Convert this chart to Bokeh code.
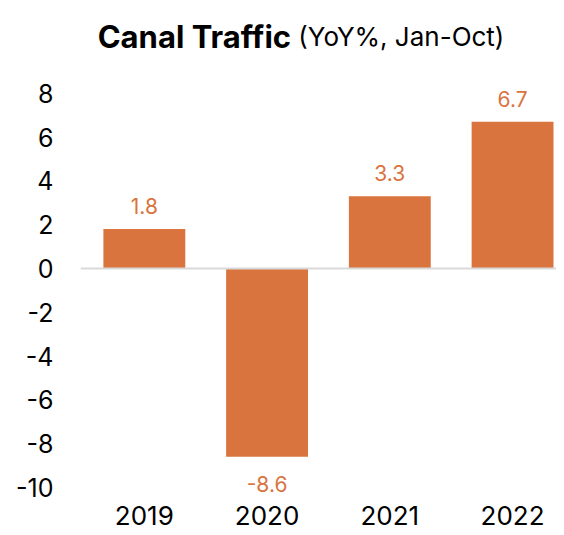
from bokeh.plotting import figure
from bokeh.models import Range1d, FixedTicker, Span, Label, ColumnDataSource
from bokeh.core.properties import value
from bokeh.embed import file_html
from bokeh.resources import INLINE

years = ["2019", "2020", "2021", "2022"]
yoy = [1.8, -8.6, 3.3, 6.7]
y_ticks = [-10, -8, -6, -4, -2, 0, 2, 4, 6, 8]
title_main = "Canal Traffic"
title_sub = "(YoY%, Jan-Oct)"

BAR = "#D9743F"
FONT = "Inter"

xs = list(range(len(years)))
src = ColumnDataSource(dict(x=xs, top=yoy))
pos_src = ColumnDataSource(dict(
    x=[x for x, v in zip(xs, yoy) if v >= 0],
    y=[v for v in yoy if v >= 0],
    lab=[f"{v:.1f}" for v in yoy if v >= 0],
))
neg_src = ColumnDataSource(dict(
    x=[x for x, v in zip(xs, yoy) if v < 0],
    y=[v for v in yoy if v < 0],
    lab=[f"{v:.1f}" for v in yoy if v < 0],
))

p = figure(width=556, height=535, output_backend="svg", toolbar_location=None,
           x_range=Range1d(-0.52, 3.358), y_range=Range1d(-10.64, 12.24),
           min_border_left=80, min_border_right=0, min_border_top=0,
           min_border_bottom=34)
p.outline_line_color = None
p.xgrid.visible = False
p.ygrid.visible = False

p.vbar(x="x", top="top", bottom=0, width=0.667, source=src,
       fill_color=BAR, line_color=None)

p.add_layout(Span(location=0, dimension="width", line_color="#D9D9D9", line_width=2))

p.text(x="x", y="y", text="lab", source=pos_src, text_color=BAR,
       text_font=value(FONT), text_font_size="21px", text_align="center",
       text_baseline="bottom", y_offset=-15)
p.text(x="x", y="y", text="lab", source=neg_src, text_color=BAR,
       text_font=value(FONT), text_font_size="21px", text_align="center",
       text_baseline="top", y_offset=19)

for ax in (p.xaxis[0], p.yaxis[0]):
    ax.axis_line_color = None
    ax.major_tick_line_color = None
    ax.minor_tick_line_color = None
    ax.major_tick_out = 0
    ax.major_tick_in = 0
    ax.minor_tick_out = 0
    ax.minor_tick_in = 0
    ax.major_label_text_font = FONT
    ax.major_label_text_color = "#000000"
    ax.major_label_text_font_size = "25px"

p.xaxis.major_label_text_font_size = "26px"
p.xaxis.ticker = FixedTicker(ticks=xs)
p.xaxis.major_label_overrides = {x: y for x, y in zip(xs, years)}
p.xaxis.major_label_standoff = 4
p.yaxis.ticker = FixedTicker(ticks=y_ticks)
p.yaxis.major_label_overrides = {t: str(t) for t in y_ticks}
p.yaxis.major_label_standoff = 27

p.add_layout(Label(x=-0.38, y=10.6, text=title_main, text_font=FONT,
                   text_font_size="31px", text_font_style="bold",
                   text_color="#000000", text_baseline="alphabetic"))
p.add_layout(Label(x=1.255, y=10.6, text=title_sub, text_font=FONT,
                   text_font_size="26px", text_color="#000000",
                   text_baseline="alphabetic"))

open("out.html", "w").write(file_html(p, INLINE))
